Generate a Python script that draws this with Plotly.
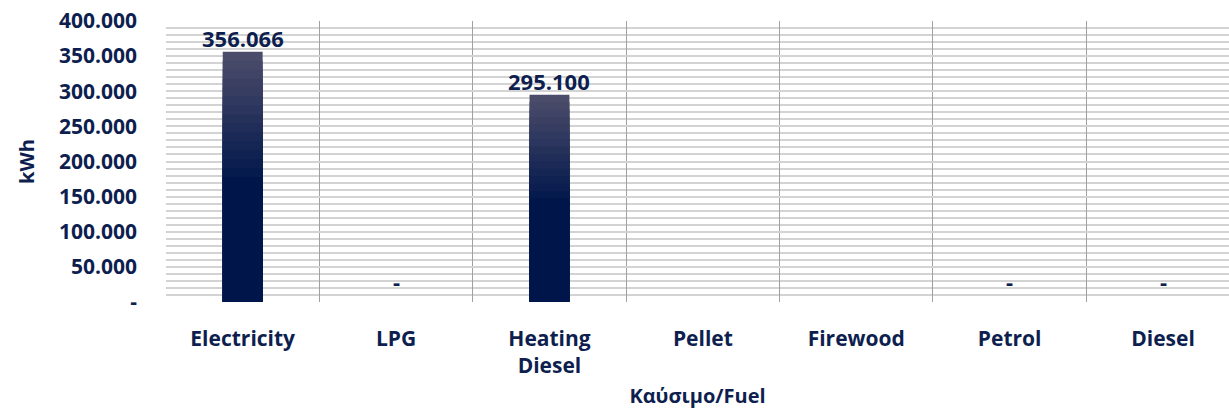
import plotly.graph_objects as go

categories = ["Electricity", "LPG", "Heating<br>Diesel", "Pellet", "Firewood", "Petrol", "Diesel"]
values_kwh = [356066, 0, 295100, None, None, 0, 0]
y_tick_values = [0, 50000, 100000, 150000, 200000, 250000, 300000, 350000, 400000]
y_tick_labels = ["-", "50.000", "100.000", "150.000", "200.000", "250.000", "300.000", "350.000", "400.000"]

NAVY = "#0e1f4f"
FONT = "Open Sans"
BOTTOM_COLOR = (0x00, 0x16, 0x4b)
TOP_COLOR = (0x4b, 0x4c, 0x6a)


def fmt(v):
    if v is None:
        return None
    if v == 0:
        return "-"
    return f"{v:,.0f}".replace(",", ".")


fig = go.Figure()

# gradient: bottom half solid, top half fading to grey-violet
n_steps = 14
for k in range(n_steps, -1, -1):
    f = 0.5 + 0.5 * k / n_steps  # top fraction of this layer
    t = k / n_steps
    c = tuple(round(BOTTOM_COLOR[i] + (TOP_COLOR[i] - BOTTOM_COLOR[i]) * t) for i in range(3))
    color = "rgb(%d,%d,%d)" % c
    fig.add_trace(go.Bar(
        x=categories,
        y=[None if v is None else v * f for v in values_kwh],
        marker=dict(color=color, line=dict(width=0)),
        width=0.26,
        showlegend=False,
        hoverinfo="skip",
    ))

for cat, v in zip(categories, values_kwh):
    label = fmt(v)
    if label is None:
        continue
    fig.add_annotation(
        x=cat, y=v, text=f"<b>{label}</b>", showarrow=False,
        yanchor="bottom", yshift=-3 if v else 4,
        font=dict(family=FONT, size=22, color=NAVY),
    )

fig.update_layout(
    width=1229, height=410,
    margin=dict(l=166, r=0, t=21, b=108),
    paper_bgcolor="white", plot_bgcolor="white",
    barmode="overlay",
    font=dict(family=FONT, color=NAVY),
    xaxis=dict(
        range=[-0.5, 6.43],
        tickson="boundaries",
        showgrid=True, gridcolor="#a0a0a0", gridwidth=1.3,
        ticks="", showline=False, zeroline=False,
        tickfont=dict(family=FONT, size=21, color=NAVY, weight="bold"),
        ticklabelstandoff=22,
        title=dict(text="<b>Καύσιμο/Fuel</b>", font=dict(family=FONT, size=20, color=NAVY), standoff=10),
        automargin=False,
    ),
    yaxis=dict(
        range=[0, 400000],
        tickvals=y_tick_values, ticktext=y_tick_labels,
        showgrid=True, gridcolor="#d3d3d3", gridwidth=1.5,
        minor=dict(dtick=10000, showgrid=True, gridcolor="#d3d3d3", gridwidth=1.5),
        zeroline=False, showline=False, ticks="",
        tickfont=dict(family=FONT, size=21, color=NAVY, weight="bold"),
        ticklabelstandoff=28,
        title=dict(text="<b>kWh</b>", font=dict(family=FONT, size=20, color=NAVY), standoff=18),
        automargin=False,
    ),
)

# remove the browser's default 8px body margin so the figure sits at the page origin
fig.write_html(
    "out.html",
    config={"displayModeBar": False},
    post_script="document.body.style.margin='0';",
)
